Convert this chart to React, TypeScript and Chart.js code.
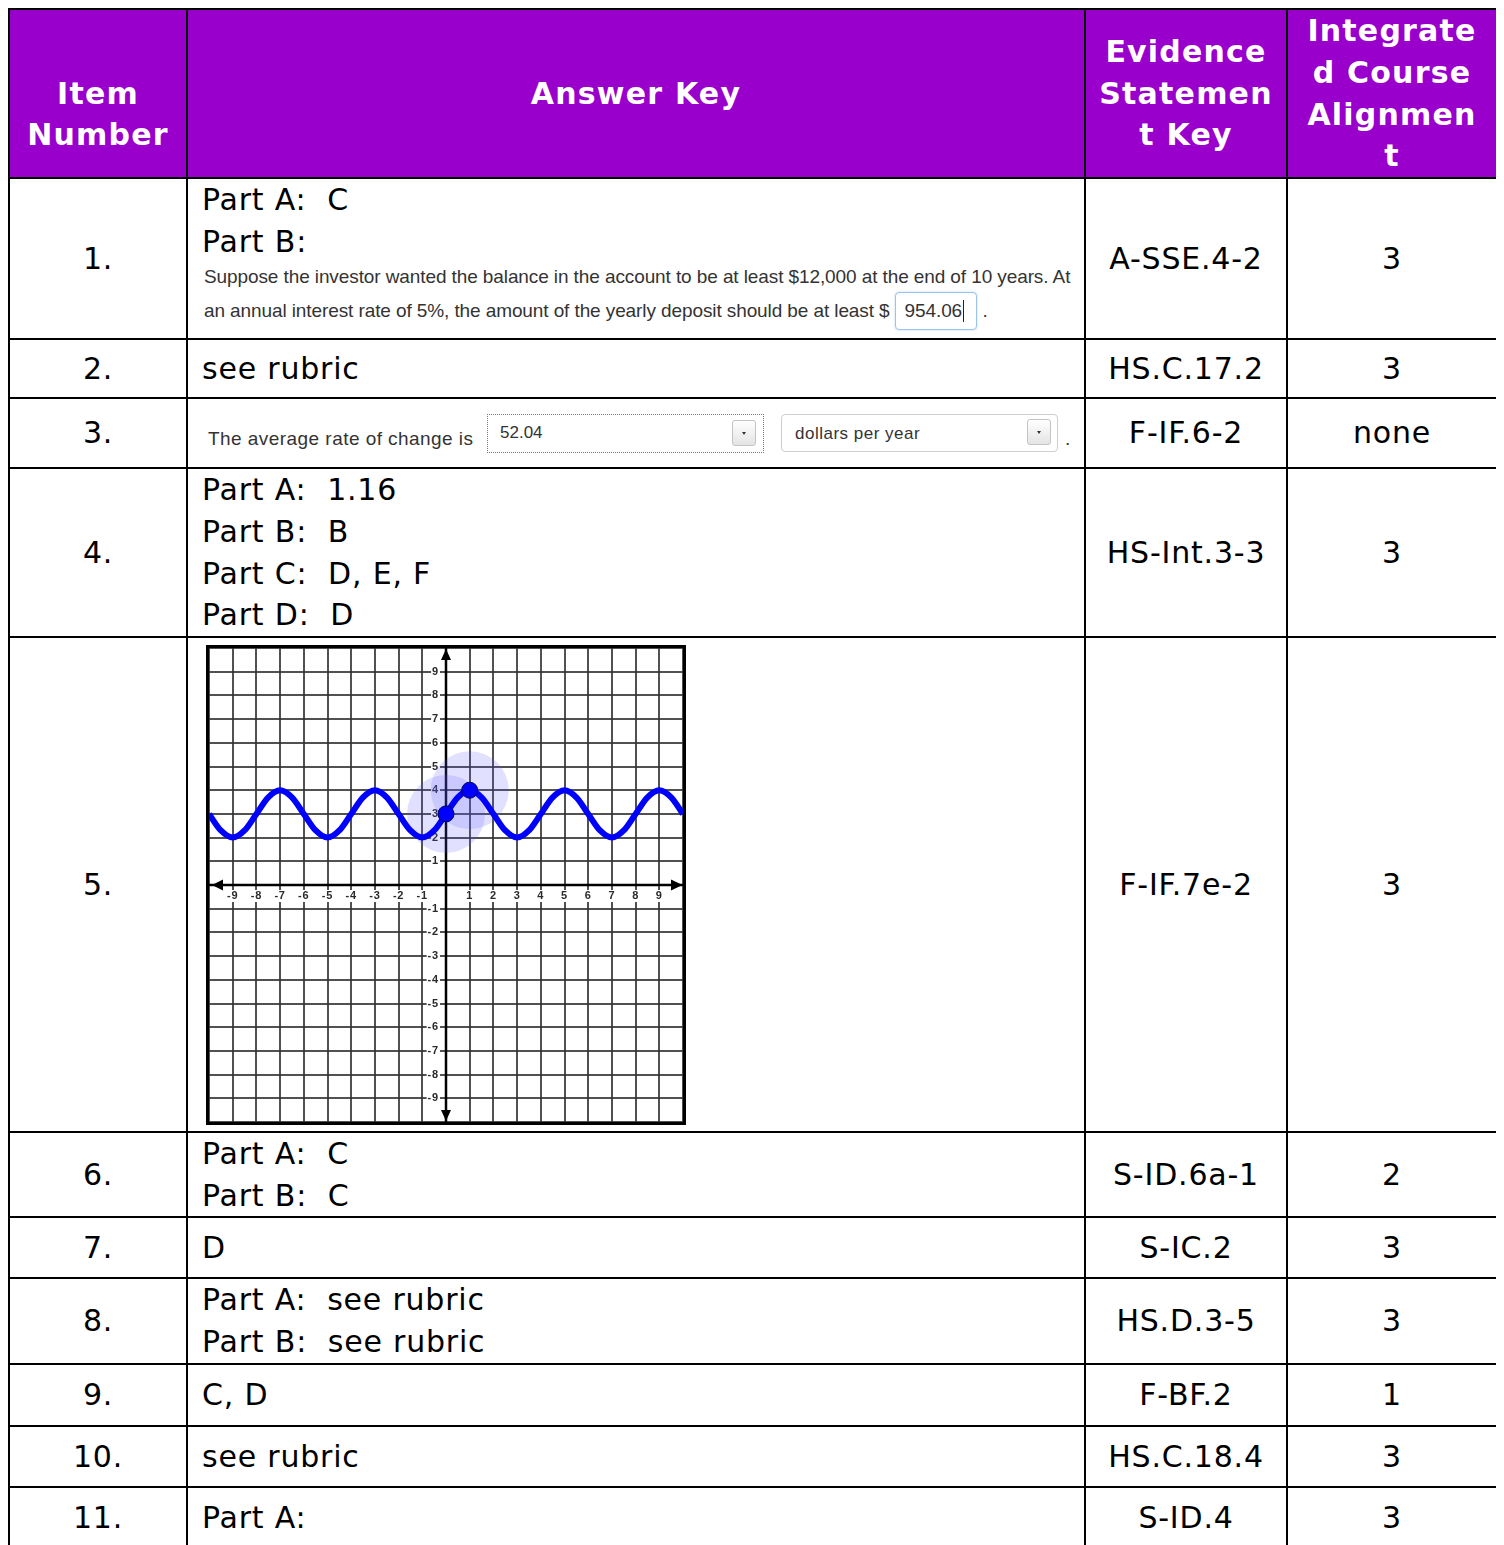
import React, { useEffect, useRef } from 'react';
import { Chart, registerables } from 'chart.js';

Chart.register(...registerables);

// ---------- table data ----------
const HEADER_ITEM = ['', 'Item', 'Number'];
const HEADER_ANSWER = 'Answer Key';
const HEADER_EVIDENCE = ['Evidence', 'Statemen', 't Key'];
const HEADER_COURSE = ['Integrate', 'd Course', 'Alignmen', 't'];

const ITEM_NUMBERS = ['1.', '2.', '3.', '4.', '5.', '6.', '7.', '8.', '9.', '10.', '11.'];
const EVIDENCE_KEYS = ['A-SSE.4-2', 'HS.C.17.2', 'F-IF.6-2', 'HS-Int.3-3', 'F-IF.7e-2', 'S-ID.6a-1', 'S-IC.2', 'HS.D.3-5', 'F-BF.2', 'HS.C.18.4', 'S-ID.4'];
const COURSE_ALIGNMENT = ['3', '3', 'none', '3', '3', '2', '3', '3', '1', '3', '3'];
const ANSWER_LINES: (string[] | null)[] = [
  null,
  ['see rubric'],
  null,
  ['Part A:  1.16', 'Part B:  B', 'Part C:  D, E, F', 'Part D:  D'],
  null,
  ['Part A:  C', 'Part B:  C'],
  ['D'],
  ['Part A:  see rubric', 'Part B:  see rubric'],
  ['C, D'],
  ['see rubric'],
  ['Part A:'],
];
const ITEM1_PARTS = ['Part A:  C', 'Part B:'];
const ITEM1_SENTENCE_1 = 'Suppose the investor wanted the balance in the account to be at least $12,000 at the end of 10 years. At';
const ITEM1_SENTENCE_2 = 'an annual interest rate of 5%, the amount of the yearly deposit should be at least $';
const ITEM1_ANSWER = '954.06';
const ITEM3_TEXT = 'The average rate of change is';
const ITEM3_VALUE = '52.04';
const ITEM3_UNIT = 'dollars per year';

// ---------- graph data (item 5) ----------
const CURVE_X = [
  -10, -9.5, -9, -8.5, -8, -7.5, -7, -6.5, -6, -5.5, -5, -4.5, -4, -3.5, -3, -2.5, -2, -1.5, -1, -0.5,
  0, 0.5, 1, 1.5, 2, 2.5, 3, 3.5, 4, 4.5, 5, 5.5, 6, 6.5, 7, 7.5, 8, 8.5, 9, 9.5, 10,
];
const CURVE_Y = [
  3, 2.3, 2, 2.3, 3, 3.7, 4, 3.7, 3, 2.3, 2, 2.3, 3, 3.7, 4, 3.7, 3, 2.3, 2, 2.3,
  3, 3.7, 4, 3.7, 3, 2.3, 2, 2.3, 3, 3.7, 4, 3.7, 3, 2.3, 2, 2.3, 3, 3.7, 4, 3.7, 3,
];
const POINTS_X = [0, 1];
const POINTS_Y = [3, 4];
const X_TICK_LABELS = [-9, -8, -7, -6, -5, -4, -3, -2, -1, 1, 2, 3, 4, 5, 6, 7, 8, 9];
const Y_TICK_LABELS = [9, 8, 7, 6, 5, 4, 3, 2, 1, -1, -2, -3, -4, -5, -6, -7, -8, -9];
const AXIS_MIN = -10;
const AXIS_MAX = 10;

const PURPLE = '#9900cc';
const BODY_FONT = '"DejaVu Sans", Verdana, sans-serif';
const SHOT_FONT = '"Liberation Sans", Arial, Helvetica, sans-serif';

const axesPlugin = {
  id: 'axesPlugin',
  beforeDatasetsDraw(chart: any) {
    const { ctx, chartArea: a, scales } = chart;
    const xs = scales.x;
    const ys = scales.y;
    const x0 = xs.getPixelForValue(0);
    const y0 = ys.getPixelForValue(0);
    ctx.save();
    ctx.strokeStyle = '#000';
    ctx.lineWidth = 2.5;
    ctx.beginPath();
    ctx.moveTo(a.left, y0);
    ctx.lineTo(a.right, y0);
    ctx.moveTo(x0, a.top);
    ctx.lineTo(x0, a.bottom);
    ctx.stroke();
    ctx.fillStyle = '#000';
    const tri = (p: number[][]) => {
      ctx.beginPath();
      ctx.moveTo(p[0][0], p[0][1]);
      ctx.lineTo(p[1][0], p[1][1]);
      ctx.lineTo(p[2][0], p[2][1]);
      ctx.closePath();
      ctx.fill();
    };
    tri([[a.left + 3, y0], [a.left + 14, y0 - 5.5], [a.left + 14, y0 + 5.5]]);
    tri([[a.right - 0.5, y0], [a.right - 12, y0 - 5.5], [a.right - 12, y0 + 5.5]]);
    tri([[x0, a.top + 1], [x0 - 5, a.top + 12], [x0 + 5, a.top + 12]]);
    tri([[x0, a.bottom - 1], [x0 - 5, a.bottom - 12], [x0 + 5, a.bottom - 12]]);

    ctx.font = 'bold 11px "Liberation Sans", Arial, sans-serif';
    ctx.textBaseline = 'middle';
    X_TICK_LABELS.forEach((v) => {
      const px = xs.getPixelForValue(v);
      const t = String(v);
      const w = ctx.measureText(t).width;
      ctx.fillStyle = '#fff';
      ctx.fillRect(px - w / 2 - 1, y0 + 5, w + 2, 12);
      ctx.fillStyle = '#2a2a2a';
      ctx.textAlign = 'center';
      ctx.fillText(t, px, y0 + 11);
    });
    Y_TICK_LABELS.forEach((v) => {
      const py = ys.getPixelForValue(v);
      const t = String(v);
      const w = ctx.measureText(t).width;
      const right = x0 - 7;
      ctx.fillStyle = '#fff';
      ctx.fillRect(right - w - 1, py - 6, w + 2, 12);
      ctx.fillStyle = '#2a2a2a';
      ctx.textAlign = 'right';
      ctx.fillText(t, right, py);
    });
    ctx.restore();
  },
};

function Graph() {
  const ref = useRef<HTMLCanvasElement>(null);
  useEffect(() => {
    const curve = CURVE_X.map((x, i) => ({ x, y: CURVE_Y[i] }));
    const pts = POINTS_X.map((x, i) => ({ x, y: POINTS_Y[i] }));
    const gridOpts = { color: 'rgba(50,50,50,0.85)', lineWidth: 2, drawTicks: false };
    const chart = new Chart(ref.current as HTMLCanvasElement, {
      type: 'line',
      data: {
        datasets: [
          {
            data: pts,
            showLine: false,
            pointRadius: 39,
            pointHoverRadius: 39,
            pointBackgroundColor: 'rgba(90,90,255,0.18)',
            pointBorderWidth: 0,
            borderWidth: 0,
            order: 3,
          } as any,
          {
            data: curve,
            borderColor: '#0000ff',
            borderWidth: 6,
            pointRadius: 0,
            cubicInterpolationMode: 'monotone',
            fill: false,
            order: 2,
          } as any,
          {
            data: pts,
            showLine: false,
            pointRadius: 8,
            pointHoverRadius: 8,
            pointBackgroundColor: '#0000ff',
            pointBorderColor: '#000055',
            pointBorderWidth: 1,
            order: 1,
          } as any,
        ],
      },
      options: {
        animation: false,
        responsive: false,
        devicePixelRatio: 1,
        events: [],
        layout: { padding: 0, autoPadding: false },
        plugins: { legend: { display: false }, tooltip: { enabled: false } },
        scales: {
          x: {
            type: 'linear',
            min: AXIS_MIN,
            max: AXIS_MAX,
            ticks: { stepSize: 1, display: false },
            grid: gridOpts,
            border: { display: false },
          },
          y: {
            type: 'linear',
            min: AXIS_MIN,
            max: AXIS_MAX,
            ticks: { stepSize: 1, display: false },
            grid: gridOpts,
            border: { display: false },
          },
        },
      } as any,
      plugins: [axesPlugin],
    });
    return () => chart.destroy();
  }, []);
  return <canvas ref={ref} width={474} height={474} style={{ display: 'block', width: 474, height: 474 }} />;
}

function DropArrow({ left, top }: { left: number; top: number }) {
  return (
    <div
      style={{
        position: 'absolute',
        left,
        top,
        width: 24,
        height: 26,
        boxSizing: 'border-box',
        border: '1px solid #c4c4c4',
        borderRadius: 3,
        background: 'linear-gradient(#ffffff, #e4e4e4)',
      }}
    >
      <div
        style={{
          position: 'absolute',
          left: 9,
          top: 11,
          width: 0,
          height: 0,
          borderLeft: '2.5px solid transparent',
          borderRight: '2.5px solid transparent',
          borderTop: '3px solid #333',
        }}
      />
    </div>
  );
}

const ROW_HEIGHTS = [167, 159, 57, 68, 167, 493, 83, 59, 84, 60, 59, 60];

export default function App() {
  const cell: React.CSSProperties = {
    background: '#fff',
    display: 'flex',
    flexDirection: 'column',
    justifyContent: 'center',
    fontFamily: BODY_FONT,
    fontSize: 30,
    letterSpacing: '0.8px',
    lineHeight: '41.75px',
    color: '#000',
    whiteSpace: 'pre',
    overflow: 'hidden',
    position: 'relative',
  };
  const center: React.CSSProperties = { ...cell, alignItems: 'center', textAlign: 'center' };
  const left: React.CSSProperties = { ...cell, alignItems: 'flex-start', paddingLeft: 14 };
  const head: React.CSSProperties = {
    ...center,
    background: PURPLE,
    color: '#fff',
    fontWeight: 'bold',
    letterSpacing: '1.2px',
  };
  const shot: React.CSSProperties = {
    fontFamily: SHOT_FONT,
    fontSize: 19,
    color: '#333',
    letterSpacing: '-0.1px',
    whiteSpace: 'pre',
  };

  const renderAnswer = (i: number) => {
    if (i === 0) {
      return (
        <div key="a0" style={{ ...left, justifyContent: 'flex-start' }}>
          {ITEM1_PARTS.map((t) => (
            <div key={t}>{t}</div>
          ))}
          <div style={{ ...shot, marginTop: -4, marginLeft: 2, lineHeight: '35px' }}>{ITEM1_SENTENCE_1}</div>
          <div style={{ ...shot, marginLeft: 2, height: 35, display: 'flex', alignItems: 'center' }}>
            <span>{ITEM1_SENTENCE_2}</span>
            <span
              style={{
                display: 'inline-flex',
                alignItems: 'center',
                boxSizing: 'border-box',
                width: 82,
                height: 38,
                marginLeft: 5,
                paddingLeft: 9,
                border: '1px solid #9cc3ea',
                borderRadius: 4,
                boxShadow: '0 0 2px rgba(120,170,230,0.6)',
              }}
            >
              {ITEM1_ANSWER}
              <span style={{ display: 'inline-block', width: 1, height: 22, background: '#222', marginLeft: 1 }} />
            </span>
            <span style={{ marginLeft: 6 }}>.</span>
          </div>
        </div>
      );
    }
    if (i === 2) {
      return (
        <div key="a2" style={{ ...cell }}>
          <div style={{ ...shot, position: 'absolute', left: 20, top: 19, fontSize: 19, letterSpacing: '0.45px' }}>{ITEM3_TEXT}</div>
          <div
            style={{
              position: 'absolute',
              left: 299,
              top: 15,
              width: 277,
              height: 39,
              boxSizing: 'border-box',
              border: '1px dotted #777',
            }}
          >
            <div style={{ ...shot, position: 'absolute', left: 12, top: -3, fontSize: 17, letterSpacing: '0px' }}>{ITEM3_VALUE}</div>
            <DropArrow left={244} top={5} />
          </div>
          <div
            style={{
              position: 'absolute',
              left: 593,
              top: 15,
              width: 277,
              height: 38,
              boxSizing: 'border-box',
              border: '1px solid #cfcfcf',
              borderRadius: 4,
            }}
          >
            <div style={{ ...shot, position: 'absolute', left: 13, top: -2, fontSize: 17, letterSpacing: '0.5px' }}>{ITEM3_UNIT}</div>
            <DropArrow left={245} top={4} />
          </div>
          <div style={{ ...shot, position: 'absolute', left: 877, top: 19, fontSize: 19 }}>.</div>
        </div>
      );
    }
    if (i === 4) {
      return (
        <div key="a4" style={{ ...cell, justifyContent: 'flex-start' }}>
          <div
            style={{
              position: 'absolute',
              left: 18,
              top: 7,
              border: '3px solid #000',
            }}
          >
            <Graph />
          </div>
        </div>
      );
    }
    return (
      <div key={'a' + i} style={left}>
        {(ANSWER_LINES[i] || []).map((t, k) => (
          <div key={k}>{t}</div>
        ))}
      </div>
    );
  };

  return (
    <div
      style={{
        display: 'grid',
        gridTemplateColumns: '176px 896px 200px 208px',
        gridTemplateRows: ROW_HEIGHTS.map((h) => h + 'px').join(' '),
        gap: 2,
        padding: 2,
        background: '#000',
        width: 1490,
        boxSizing: 'border-box',
      }}
    >
      <div style={head}>{HEADER_ITEM.map((t, k) => <div key={k} style={{ height: 41.75 }}>{t}</div>)}</div>
      <div style={head}>{HEADER_ANSWER}</div>
      <div style={head}>{HEADER_EVIDENCE.map((t) => <div key={t}>{t}</div>)}</div>
      <div style={head}>{HEADER_COURSE.map((t) => <div key={t}>{t}</div>)}</div>
      {ITEM_NUMBERS.map((n, i) => (
        <React.Fragment key={n}>
          <div style={center}>{n}</div>
          {renderAnswer(i)}
          <div style={center}>{EVIDENCE_KEYS[i]}</div>
          <div style={center}>{COURSE_ALIGNMENT[i]}</div>
        </React.Fragment>
      ))}
    </div>
  );
}
